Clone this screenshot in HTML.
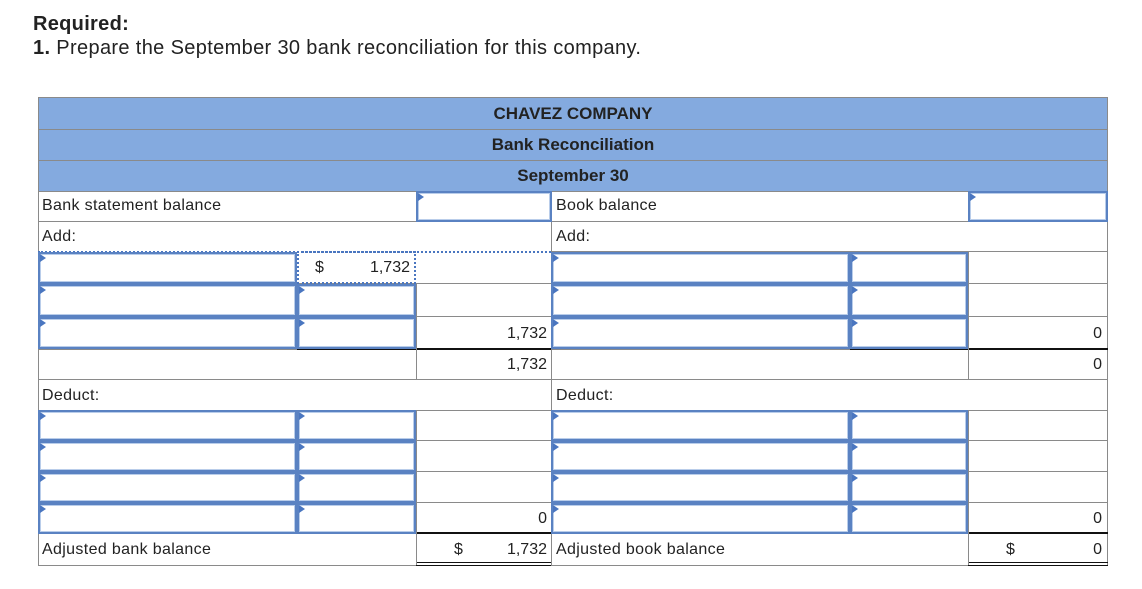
<!DOCTYPE html>
<html><head><meta charset="utf-8"><style>
*{box-sizing:border-box;margin:0;padding:0}
body{width:1142px;height:589px;background:#fff;position:relative;font-family:"Liberation Sans",sans-serif;color:#222;overflow:hidden}
.a{position:absolute}
.t{position:absolute;font-size:16px;letter-spacing:0.35px;line-height:30px;white-space:nowrap}
.h{position:absolute;left:0;height:1px;background:#8a8a8a}
.v{position:absolute;width:1px;background:#8a8a8a}
.in{position:absolute;border:2px solid #5a82c2;box-shadow:inset 0 0 0 1px #b9cdea;background:#fff}
.in:before{content:"";position:absolute;left:0;top:0;border-left:6px solid #4a76c0;border-top:4px solid transparent;border-bottom:4px solid transparent;top:0}
.hd{position:absolute;left:38px;width:1070px;background:#84aadf;border-top:1px solid #8a8a8a;font-weight:bold;font-size:17px;text-align:center}
.r{text-align:right;letter-spacing:0}
</style></head><body>
<div class="a" style="left:33px;top:13px;font-size:20px;font-weight:bold;letter-spacing:0.3px">Required:</div>
<div class="a" style="left:33px;top:37px;font-size:20px;letter-spacing:0.35px"><b>1.</b> Prepare the September 30 bank reconciliation for this company.</div>

<div class="hd" style="top:97px;height:32px;line-height:31px">CHAVEZ COMPANY</div>
<div class="hd" style="top:129px;height:31px;line-height:30px">Bank Reconciliation</div>
<div class="hd" style="top:160px;height:31px;line-height:30px">September 30</div>
<div class="v" style="left:38px;top:97px;height:469px"></div>
<div class="v" style="left:1107px;top:97px;height:469px"></div>

<div class="h" style="top:191px;left:38px;width:1070px"></div>
<div class="h" style="top:221px;left:38px;width:1070px"></div>
<div class="h" style="top:283px;left:38px;width:1070px"></div>
<div class="h" style="top:316px;left:38px;width:1070px"></div>
<div class="h" style="top:349px;left:38px;width:1070px"></div>
<div class="h" style="top:379px;left:38px;width:1070px"></div>
<div class="h" style="top:410px;left:38px;width:1070px"></div>
<div class="h" style="top:440px;left:38px;width:1070px"></div>
<div class="h" style="top:471px;left:38px;width:1070px"></div>
<div class="h" style="top:502px;left:38px;width:1070px"></div>
<div class="h" style="top:533px;left:38px;width:1070px"></div>
<div class="h" style="top:565px;left:38px;width:1070px"></div>
<div class="a" style="top:251px;left:38px;width:513px;border-top:2px dotted #4a76c0"></div>
<div class="h" style="top:251px;left:551px;width:557px"></div>
<div class="a" style="top:348px;left:297px;width:254px;height:2px;background:#111"></div>
<div class="a" style="top:348px;left:850px;width:258px;height:2px;background:#111"></div>
<div class="a" style="top:532px;left:416px;width:135px;height:2px;background:#111"></div>
<div class="a" style="top:532px;left:968px;width:140px;height:2px;background:#111"></div>
<div class="a" style="top:562px;left:416px;width:135px;height:4px;border-top:1px solid #111;border-bottom:1px solid #111"></div>
<div class="a" style="top:562px;left:968px;width:140px;height:4px;border-top:1px solid #111;border-bottom:1px solid #111"></div>

<div class="v" style="left:416px;top:191px;height:30px"></div>
<div class="v" style="left:416px;top:283px;height:96px"></div>
<div class="v" style="left:416px;top:410px;height:155px"></div>
<div class="v" style="left:551px;top:191px;height:374px"></div>
<div class="v" style="left:968px;top:191px;height:30px"></div>
<div class="v" style="left:968px;top:251px;height:128px"></div>
<div class="v" style="left:968px;top:410px;height:155px"></div>

<div class="in" style="left:416px;top:191px;width:136px;height:31px"></div>
<div class="in" style="left:968px;top:191px;width:140px;height:31px"></div>

<div class="in" style="left:38px;top:252px;width:259px;height:32px"></div>
<div class="a" style="left:297px;top:251px;width:119px;height:33px;border:2px dotted #4a76c0"></div>
<div class="in" style="left:38px;top:284px;width:259px;height:33px"></div>
<div class="in" style="left:297px;top:284px;width:119px;height:33px"></div>
<div class="in" style="left:38px;top:317px;width:259px;height:32px"></div>
<div class="in" style="left:297px;top:317px;width:119px;height:32px"></div>

<div class="in" style="left:551px;top:252px;width:299px;height:32px"></div>
<div class="in" style="left:850px;top:252px;width:118px;height:32px"></div>
<div class="in" style="left:551px;top:284px;width:299px;height:33px"></div>
<div class="in" style="left:850px;top:284px;width:118px;height:33px"></div>
<div class="in" style="left:551px;top:317px;width:299px;height:32px"></div>
<div class="in" style="left:850px;top:317px;width:118px;height:32px"></div>

<div class="in" style="left:38px;top:410px;width:259px;height:31px"></div>
<div class="in" style="left:297px;top:410px;width:119px;height:31px"></div>
<div class="in" style="left:38px;top:441px;width:259px;height:31px"></div>
<div class="in" style="left:297px;top:441px;width:119px;height:31px"></div>
<div class="in" style="left:38px;top:472px;width:259px;height:31px"></div>
<div class="in" style="left:297px;top:472px;width:119px;height:31px"></div>
<div class="in" style="left:38px;top:503px;width:259px;height:31px"></div>
<div class="in" style="left:297px;top:503px;width:119px;height:31px"></div>

<div class="in" style="left:551px;top:410px;width:299px;height:31px"></div>
<div class="in" style="left:850px;top:410px;width:118px;height:31px"></div>
<div class="in" style="left:551px;top:441px;width:299px;height:31px"></div>
<div class="in" style="left:850px;top:441px;width:118px;height:31px"></div>
<div class="in" style="left:551px;top:472px;width:299px;height:31px"></div>
<div class="in" style="left:850px;top:472px;width:118px;height:31px"></div>
<div class="in" style="left:551px;top:503px;width:299px;height:31px"></div>
<div class="in" style="left:850px;top:503px;width:118px;height:31px"></div>

<div class="t" style="left:42px;top:191px">Bank statement balance</div>
<div class="t" style="left:42px;top:222px">Add:</div>
<div class="t" style="left:556px;top:191px">Book balance</div>
<div class="t" style="left:556px;top:222px">Add:</div>
<div class="t" style="left:315px;top:253px">$</div>
<div class="t r" style="left:340px;width:70px;top:253px">1,732</div>
<div class="t r" style="left:420px;width:127px;top:319px">1,732</div>
<div class="t r" style="left:420px;width:127px;top:350px">1,732</div>
<div class="t r" style="left:972px;width:130px;top:319px">0</div>
<div class="t r" style="left:972px;width:130px;top:350px">0</div>
<div class="t" style="left:42px;top:381px">Deduct:</div>
<div class="t" style="left:556px;top:381px">Deduct:</div>
<div class="t r" style="left:420px;width:127px;top:504px">0</div>
<div class="t r" style="left:972px;width:130px;top:504px">0</div>
<div class="t" style="left:42px;top:535px">Adjusted bank balance</div>
<div class="t" style="left:454px;top:535px">$</div>
<div class="t r" style="left:420px;width:127px;top:535px">1,732</div>
<div class="t" style="left:556px;top:535px">Adjusted book balance</div>
<div class="t" style="left:1006px;top:535px">$</div>
<div class="t r" style="left:972px;width:130px;top:535px">0</div>
</body></html>
